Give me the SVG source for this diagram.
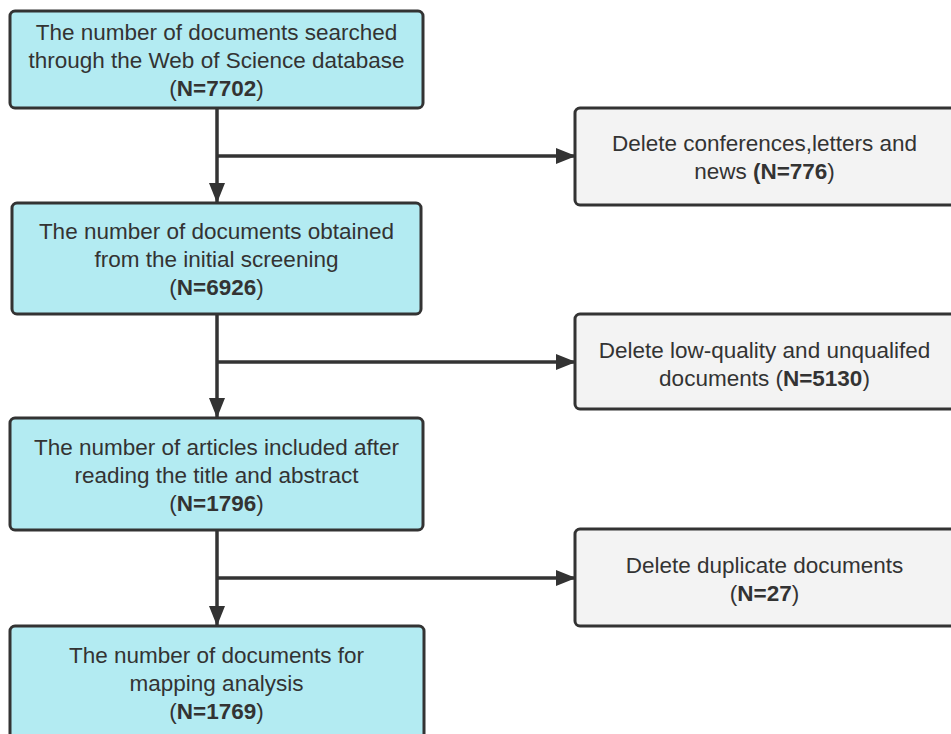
<svg xmlns="http://www.w3.org/2000/svg" width="951" height="734" viewBox="0 0 951 734">
<defs>
<style>
.main{fill:#b3ebf2;stroke:#333;stroke-width:3}
.side{fill:#f3f3f3;stroke:#333;stroke-width:3}
text{font-family:"Liberation Sans",Arial,sans-serif;font-size:22.5px;fill:#333;text-anchor:middle}
.b{font-weight:bold}
.ln{stroke:#333;stroke-width:3.5;fill:none}
</style>
<marker id="ah" markerWidth="20" markerHeight="16" refX="20" refY="8" orient="auto" markerUnits="userSpaceOnUse">
<path d="M0,0 L20,8 L0,16 Z" fill="#333"/>
</marker>
</defs>
<rect width="951" height="734" fill="#fff"/>
<g id="connectors">
<line class="ln" x1="217" y1="108" x2="217" y2="203" marker-end="url(#ah)"/>
<line class="ln" x1="217" y1="156" x2="576" y2="156" marker-end="url(#ah)"/>
<line class="ln" x1="217" y1="314" x2="217" y2="418" marker-end="url(#ah)"/>
<line class="ln" x1="217" y1="362" x2="576" y2="362" marker-end="url(#ah)"/>
<line class="ln" x1="217" y1="530" x2="217" y2="626" marker-end="url(#ah)"/>
<line class="ln" x1="217" y1="578" x2="576" y2="578" marker-end="url(#ah)"/>
</g>
<g id="n1">
<rect class="main" x="10" y="11" width="413" height="97" rx="5"/>
<text x="216.5" y="40">The number of documents searched</text>
<text x="216.5" y="68">through the Web of Science database</text>
<text x="216.5" y="96">(<tspan class="b">N=7702</tspan>)</text>
</g>
<g id="n2">
<rect class="main" x="12" y="203" width="409" height="111" rx="5"/>
<text x="216.5" y="239">The number of documents obtained</text>
<text x="216.5" y="267">from the initial screening</text>
<text x="216.5" y="295">(<tspan class="b">N=6926</tspan>)</text>
</g>
<g id="n3">
<rect class="main" x="10" y="418" width="413" height="112" rx="5"/>
<text x="216.5" y="455">The number of articles included after</text>
<text x="216.5" y="483">reading the title and abstract</text>
<text x="216.5" y="511">(<tspan class="b">N=1796</tspan>)</text>
</g>
<g id="n4">
<rect class="main" x="10" y="626" width="414" height="120" rx="5"/>
<text x="216.5" y="663">The number of documents for</text>
<text x="216.5" y="691">mapping analysis</text>
<text x="216.5" y="719">(<tspan class="b">N=1769</tspan>)</text>
</g>
<g id="s1">
<rect class="side" x="575" y="108" width="390" height="97" rx="5"/>
<text x="764.5" y="151">Delete conferences,letters and</text>
<text x="764.5" y="179">news <tspan class="b">(N=776</tspan>)</text>
</g>
<g id="s2">
<rect class="side" x="575" y="314" width="390" height="95" rx="5"/>
<text x="764.5" y="358">Delete low-quality and unqualifed</text>
<text x="764.5" y="386">documents (<tspan class="b">N=5130</tspan>)</text>
</g>
<g id="s3">
<rect class="side" x="575" y="529" width="390" height="97" rx="5"/>
<text x="764.5" y="573">Delete duplicate documents</text>
<text x="764.5" y="601">(<tspan class="b">N=27</tspan>)</text>
</g>
</svg>
